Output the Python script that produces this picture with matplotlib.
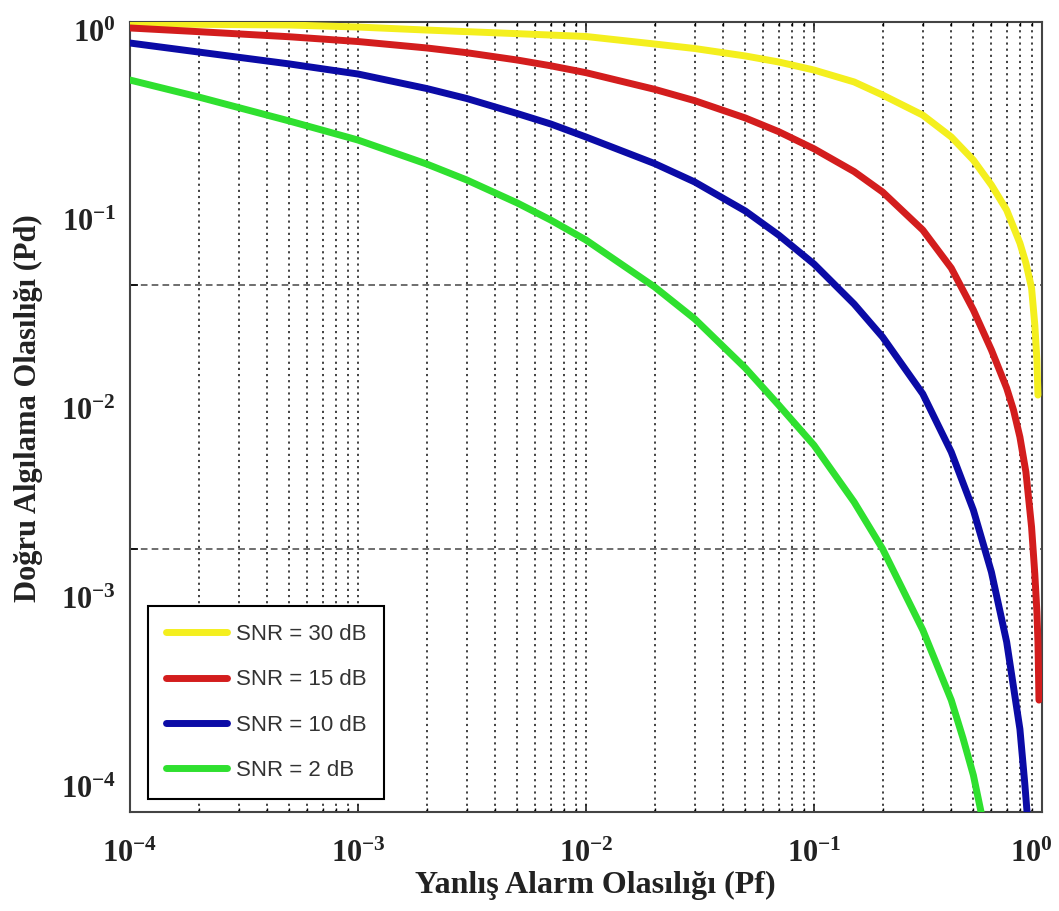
import matplotlib
matplotlib.use("Agg")
import matplotlib.pyplot as plt
from matplotlib.ticker import LogLocator, NullLocator, FixedLocator, NullFormatter
from matplotlib.transforms import ScaledTranslation

# ---------------- data ----------------
series_labels = ["SNR = 30 dB", "SNR = 15 dB", "SNR = 10 dB", "SNR = 2 dB"]
series_colors = ["#f4ef1e", "#d31d1d", "#0b0ba6", "#2fe02f"]

pf_30 = [1e-4, 2e-4, 5e-4, 1e-3, 2e-3, 5e-3, 0.01, 0.02, 0.03, 0.05, 0.07, 0.1, 0.15,
         0.2, 0.3, 0.4, 0.5, 0.6, 0.7, 0.8, 0.85, 0.9, 0.93, 0.95, 0.96]
pd_30 = [0.983, 0.980, 0.974, 0.957, 0.932, 0.903, 0.881, 0.825, 0.793, 0.743, 0.705, 0.657, 0.592,
         0.528, 0.443, 0.366, 0.299, 0.2404, 0.193, 0.1447, 0.1215, 0.0977, 0.0707, 0.0520, 0.0383]

pf_15 = [1e-4, 2e-4, 5e-4, 1e-3, 2e-3, 3e-3, 5e-3, 7e-3, 0.01, 0.02, 0.03, 0.05, 0.07, 0.1,
         0.15, 0.2, 0.3, 0.4, 0.5, 0.6, 0.7, 0.75, 0.8, 0.85, 0.9, 0.93, 0.95, 0.96, 0.97]
pd_15 = [0.949, 0.919, 0.879, 0.843, 0.797, 0.7645, 0.717, 0.682, 0.642, 0.555, 0.5025, 0.432, 0.3833, 0.330,
         0.2703, 0.2261, 0.1622, 0.1163, 0.0806, 0.0568, 0.0407, 0.0336, 0.02654, 0.01954, 0.01208, 0.00801,
         0.00574, 0.00442, 0.00266]

pf_10 = [1e-4, 2e-4, 5e-4, 1e-3, 2e-3, 3e-3, 5e-3, 7e-3, 0.01, 0.02, 0.03, 0.05, 0.07, 0.1,
         0.15, 0.2, 0.3, 0.4, 0.5, 0.6, 0.7, 0.8, 0.84, 0.87]
pd_10 = [0.832, 0.769, 0.693, 0.6346, 0.559, 0.5122, 0.449, 0.410, 0.3658, 0.290, 0.2468, 0.1915, 0.1552, 0.1205,
         0.0849, 0.0636, 0.0387, 0.02328, 0.01401, 0.00815, 0.00442, 0.002065, 0.001288, 0.00088]

pf_2 = [1e-4, 2e-4, 5e-4, 1e-3, 2e-3, 3e-3, 5e-3, 7e-3, 0.01, 0.02, 0.03, 0.05, 0.07, 0.1,
        0.15, 0.2, 0.3, 0.4, 0.45, 0.5, 0.55]
pd_2 = [0.602, 0.519, 0.4207, 0.3562, 0.2889, 0.2512, 0.2054, 0.1770, 0.1486, 0.0986, 0.0745, 0.0485, 0.0351,
        0.0247, 0.01503, 0.00997, 0.00491, 0.00266, 0.00191, 0.00138, 0.00093]

x_ticks = [1e-4, 1e-3, 1e-2, 1e-1, 1e0]
x_tick_labels = [r"$\mathbf{10^{-4}}$", r"$\mathbf{10^{-3}}$", r"$\mathbf{10^{-2}}$",
                 r"$\mathbf{10^{-1}}$", r"$\mathbf{10^{0}}$"]
y_label_ticks = [1e0, 1e-1, 1e-2, 1e-3, 1e-4]
y_tick_labels = [r"$\mathbf{10^{0}}$", r"$\mathbf{10^{-1}}$", r"$\mathbf{10^{-2}}$",
                 r"$\mathbf{10^{-3}}$", r"$\mathbf{10^{-4}}$"]
x_label = "Yanlış Alarm Olasılığı (Pf)"
y_label = "Doğru Algılama Olasılığı (Pd)"

# ---------------- style ----------------
plt.rcParams["mathtext.fontset"] = "custom"
plt.rcParams["mathtext.rm"] = "Liberation Serif:bold"
plt.rcParams["mathtext.bf"] = "Liberation Serif:bold"
plt.rcParams["mathtext.it"] = "Liberation Serif:bold"

fig = plt.figure(figsize=(10.59, 9.11), dpi=100)
ax = fig.add_axes([130 / 1059, 1 - 812 / 911, 912 / 1059, 790 / 911])

series = [(pf_30, pd_30), (pf_15, pd_15), (pf_10, pd_10), (pf_2, pd_2)]
for (pf, pdv), lab, col in zip(series, series_labels, series_colors):
    ax.plot(pf, pdv, color=col, lw=5, label=lab, solid_capstyle="round",
            solid_joinstyle="round", zorder=3)

ax.set_xscale("log")
ax.set_yscale("log")
ax.set_xlim(1e-4, 1e0)
ax.set_ylim(1e-3, 1e0)

ax.xaxis.set_major_locator(FixedLocator(x_ticks))
ax.set_xticklabels(x_tick_labels)
ax.xaxis.set_minor_locator(LogLocator(base=10, subs=range(2, 10)))
ax.xaxis.set_minor_formatter(NullFormatter())
ax.yaxis.set_major_locator(LogLocator(base=10, numticks=10))
ax.yaxis.set_minor_locator(NullLocator())

ax.tick_params(axis="x", which="major", direction="in", length=6, width=1.2,
               top=True, bottom=True, labelsize=22, pad=19, colors="#222222")
ax.tick_params(axis="x", which="minor", direction="in", length=3, width=1.0,
               top=True, bottom=True)
ax.tick_params(axis="y", which="major", direction="in", length=6, width=1.2,
               left=True, right=True, labelleft=False)

# shift the last x tick label a little to the left, as in the source
last = ax.xaxis.get_major_ticks()[-1].label1
last.set_transform(last.get_transform() + ScaledTranslation(-11 / 100, 0, fig.dpi_scale_trans))

ax.grid(True, which="both", axis="x", color="#333333", linestyle=(0, (1.2, 2.2)), linewidth=1.3)
ax.grid(True, which="major", axis="y", color="#555555", linestyle=(0, (4, 2.5)), linewidth=1.2)
ax.set_axisbelow(True)

for s in ax.spines.values():
    s.set_linewidth(1.5)
    s.set_color("#444444")

leg = ax.legend(loc="lower left", bbox_to_anchor=(0.0197, 0.0165), borderaxespad=0,
                fancybox=False, framealpha=1, edgecolor="black",
                prop={"family": "Liberation Sans", "size": 16},
                handlelength=2.75, handletextpad=0.4, labelspacing=1.1, borderpad=0.8)
leg.get_frame().set_linewidth(1.5)
for t in leg.get_texts():
    t.set_color("#333333")
leg.set_zorder(5)

# label axis for the left tick labels
lab_ax = ax.twinx()
lab_ax.set_yscale("log")
lab_ax.set_ylim(7.28e-5, 1.102)
lab_ax.yaxis.set_label_position("left")
lab_ax.yaxis.tick_left()
lab_ax.yaxis.set_major_locator(FixedLocator(y_label_ticks))
lab_ax.set_yticklabels(y_tick_labels)
lab_ax.yaxis.set_minor_locator(NullLocator())
lab_ax.tick_params(axis="y", which="major", length=0, labelsize=22, pad=10, colors="#222222")
for s in lab_ax.spines.values():
    s.set_visible(False)

fig.text(595 / 1059, 1 - 885 / 911, x_label, ha="center", va="center",
         fontsize=23, fontweight="bold", family="Liberation Serif", color="#222222")
fig.text(28 / 1059, 1 - 408 / 911, y_label, ha="center", va="center", rotation=90,
         fontsize=22, fontweight="bold", family="Liberation Serif", color="#222222")

fig.savefig("out.png", dpi=100)
